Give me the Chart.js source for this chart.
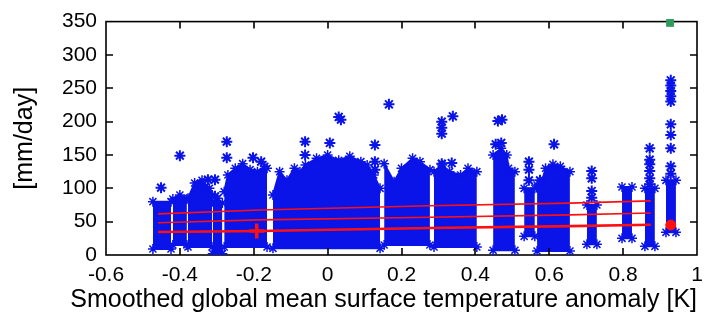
<!DOCTYPE html>
<html>
<head>
<meta charset="utf-8">
<script src="https://cdn.jsdelivr.net/npm/chart.js@4"></script>
<style>
  html, body { margin: 0; padding: 0; background: #fff; }
</style>
</head>
<body>
<canvas id="rainChart" width="714" height="326"></canvas>
<script>
// Dense part of each group of days: x range [K] and top / bottom [mm/day]
const colX = [
  [-0.473, -0.424],
  [-0.419, -0.400, -0.381],
  [-0.378, -0.360, -0.340, -0.320, -0.313],
  [-0.311, -0.298, -0.285],
  [-0.280, -0.270, -0.250, -0.230, -0.210, -0.190, -0.170, -0.164],
  [-0.148, -0.130, -0.110, -0.090, -0.075, -0.060, -0.030, 0.000, 0.030, 0.060, 0.090, 0.107, 0.125, 0.142],
  [0.153, 0.180, 0.200, 0.230, 0.250, 0.277],
  [0.288, 0.310, 0.330, 0.360, 0.380, 0.404],
  [0.448, 0.470, 0.485, 0.490, 0.507],
  [0.532, 0.561],
  [0.567, 0.580, 0.590, 0.610, 0.630, 0.656],
  [0.702, 0.729],
  [0.797, 0.824],
  [0.859, 0.886],
  [0.916, 0.943]
];
const colTop = [
  [80, 80],
  [84, 90, 84],
  [85, 108, 112, 100, 90],
  [80, 85, 78],
  [95, 120, 130, 137, 128, 125, 133, 130],
  [90, 125, 112, 130, 125, 135, 145, 150, 142, 148, 140, 135, 120, 100],
  [137, 110, 130, 145, 140, 128],
  [125, 135, 125, 120, 130, 125],
  [150, 160, 150, 130, 125],
  [100, 100],
  [105, 110, 130, 136, 133, 125],
  [75, 75],
  [102, 102],
  [100, 100],
  [112, 112]
];
const colBottom = [9, 15, 12, 2, 12, 10, 15, 12, 7, 28, 6, 16, 25, 13, 34];

// single days above the dense part
const starX = [-0.451, -0.400, -0.345, -0.324, -0.305, -0.305, -0.273, -0.273, -0.202, -0.180,
  -0.061, -0.061, 0.006, 0.030, 0.036, 0.128, 0.128, 0.128, 0.166,
  0.309, 0.309, 0.309, 0.339, 0.309, 0.336,
  0.461, 0.472, 0.455, 0.470,
  0.545, 0.545, 0.545,
  0.613, 0.575, 0.575,
  0.715, 0.715, 0.715, 0.715,
  0.872, 0.872, 0.872, 0.872, 0.872, 0.872,
  0.929, 0.929, 0.929, 0.929, 0.929, 0.929, 0.929, 0.929, 0.929, 0.929];
const starY = [101, 149, 106, 113, 113, 88, 170, 146, 146, 140,
  170, 150, 168, 207, 203, 165, 140, 128, 226,
  200, 191, 182, 208, 137, 138,
  201, 203, 166, 168,
  140, 128, 112,
  166, 112, 100,
  126, 115, 96, 86,
  160, 143, 136, 126, 115, 106,
  262, 254, 246, 238, 230, 196, 180, 160, 133, 122];

// red trend lines
const lineX = [-0.459, -0.183, 0.277, 0.656, 0.875];
const lineLow = [34.4, 35.9, 40.4, 43.3, 45.3];
const lineMid = [48.3, 52.7, 56.6, 60.1, 63.0];
const lineHigh = [61.6, 67.5, 73.8, 77.8, 81.2];

// marked points
const crossPt = { x: -0.192, y: 36 };
const dotPt = { x: 0.929, y: 45 };
const squarePt = { x: 0.927, y: 348 };

const BLUE = "rgb(10,20,232)";
const RED = "#ff1010";

// build the upper / lower edge with a break between groups
const topPts = [];
const botPts = [];
colX.forEach((xs, i) => {
  xs.forEach((x, j) => topPts.push({ x: x, y: colTop[i][j] }));
  botPts.push({ x: xs[0], y: colBottom[i] });
  botPts.push({ x: xs[xs.length - 1], y: colBottom[i] });
  if (i < colX.length - 1) {
    topPts.push({ x: xs[xs.length - 1], y: null });
    botPts.push({ x: xs[xs.length - 1], y: null });
  }
});
const stars = starX.map((x, i) => ({ x: x, y: starY[i] }));
const toPts = (ys) => lineX.map((x, i) => ({ x: x, y: ys[i] }));

// frame and inward ticks on all four sides
const frameTicks = {
  id: "frameTicks",
  beforeDatasetsDraw(chart) {
    const { ctx, chartArea: a } = chart;
    ctx.save();
    ctx.strokeStyle = "#000";
    ctx.lineWidth = 1.6;
    ctx.strokeRect(a.left, a.top, a.right - a.left, a.bottom - a.top);
    ctx.restore();
  },
  afterDatasetsDraw(chart) {
    const { ctx, chartArea: a, scales } = chart;
    const len = 7;
    ctx.save();
    ctx.strokeStyle = "#000";
    ctx.lineWidth = 1.6;
    ctx.beginPath();
    scales.x.ticks.forEach((t) => {
      const px = Math.round(scales.x.getPixelForValue(t.value));
      if (px <= a.left + 1 || px >= a.right - 1) return;
      ctx.moveTo(px, a.bottom); ctx.lineTo(px, a.bottom - len);
      ctx.moveTo(px, a.top); ctx.lineTo(px, a.top + len);
    });
    scales.y.ticks.forEach((t) => {
      const py = Math.round(scales.y.getPixelForValue(t.value));
      if (py <= a.top + 1 || py >= a.bottom - 1) return;
      ctx.moveTo(a.left, py); ctx.lineTo(a.left + len, py);
      ctx.moveTo(a.right, py); ctx.lineTo(a.right - len, py);
    });
    ctx.stroke();
    ctx.restore();
  }
};

const FONT = "'Liberation Sans', Arial, sans-serif";

new Chart(document.getElementById("rainChart"), {
  type: "scatter",
  data: {
    datasets: [
      { data: [squarePt], clip: false, pointStyle: "rect", pointRadius: 5.5, backgroundColor: "#2e9b5c", borderColor: "#2e9b5c", borderWidth: 0 },
      { data: [crossPt], pointStyle: "cross", pointRadius: 7.5, borderColor: RED, borderWidth: 3.5 },
      { data: [dotPt], pointStyle: "circle", pointRadius: 5, backgroundColor: RED, borderColor: RED, borderWidth: 1 },
      { data: toPts(lineLow), showLine: true, pointRadius: 0, borderColor: RED, borderWidth: 2.6 },
      { data: toPts(lineMid), showLine: true, pointRadius: 0, borderColor: RED, borderWidth: 1.6 },
      { data: toPts(lineHigh), showLine: true, pointRadius: 0, borderColor: RED, borderWidth: 1.6 },
      { data: stars, pointStyle: "star", pointRadius: 5.5, borderColor: BLUE, backgroundColor: BLUE, borderWidth: 2 },
      { data: topPts, showLine: true, fill: "+1", backgroundColor: BLUE, borderColor: BLUE, borderWidth: 2,
        pointStyle: "star", pointRadius: 5, pointBorderColor: BLUE, pointBorderWidth: 1.5 },
      { data: botPts, showLine: true, fill: false, borderColor: BLUE, borderWidth: 2,
        pointStyle: "star", pointRadius: 5, pointBorderColor: BLUE, pointBorderWidth: 1.5 }
    ]
  },
  options: {
    responsive: false,
    animation: false,
    devicePixelRatio: 1,
    layout: { padding: { top: 18, right: 17, left: 0, bottom: 0 } },
    plugins: {
      legend: { display: false },
      tooltip: { enabled: false },
      title: {
        display: true,
        position: "bottom",
        align: "end",
        text: "Smoothed global mean surface temperature anomaly [K]",
        color: "#000",
        font: { family: FONT, size: 25, weight: "normal" },
        padding: { top: 0, bottom: 11 }
      }
    },
    elements: { line: { tension: 0 } },
    scales: {
      x: {
        type: "linear",
        min: -0.6,
        max: 1,
        grid: { display: false, drawTicks: false },
        border: { display: false },
        afterFit: (s) => { s.height = 30; },
        ticks: {
          stepSize: 0.2,
          padding: 8,
          color: "#000",
          font: { family: FONT, size: 21 },
          callback: (v) => String(Number(v.toFixed(1)))
        }
      },
      y: {
        min: 0,
        max: 350,
        grid: { display: false, drawTicks: false },
        border: { display: false },
        afterFit: (s) => { s.width = 106; },
        ticks: {
          stepSize: 50,
          padding: 9,
          color: "#000",
          font: { family: FONT, size: 21 }
        },
        title: {
          display: true,
          text: "[mm/day]",
          color: "#000",
          font: { family: FONT, size: 25 },
          padding: { top: 10, bottom: 0 }
        }
      }
    }
  },
  plugins: [frameTicks]
});
</script>
</body>
</html>
